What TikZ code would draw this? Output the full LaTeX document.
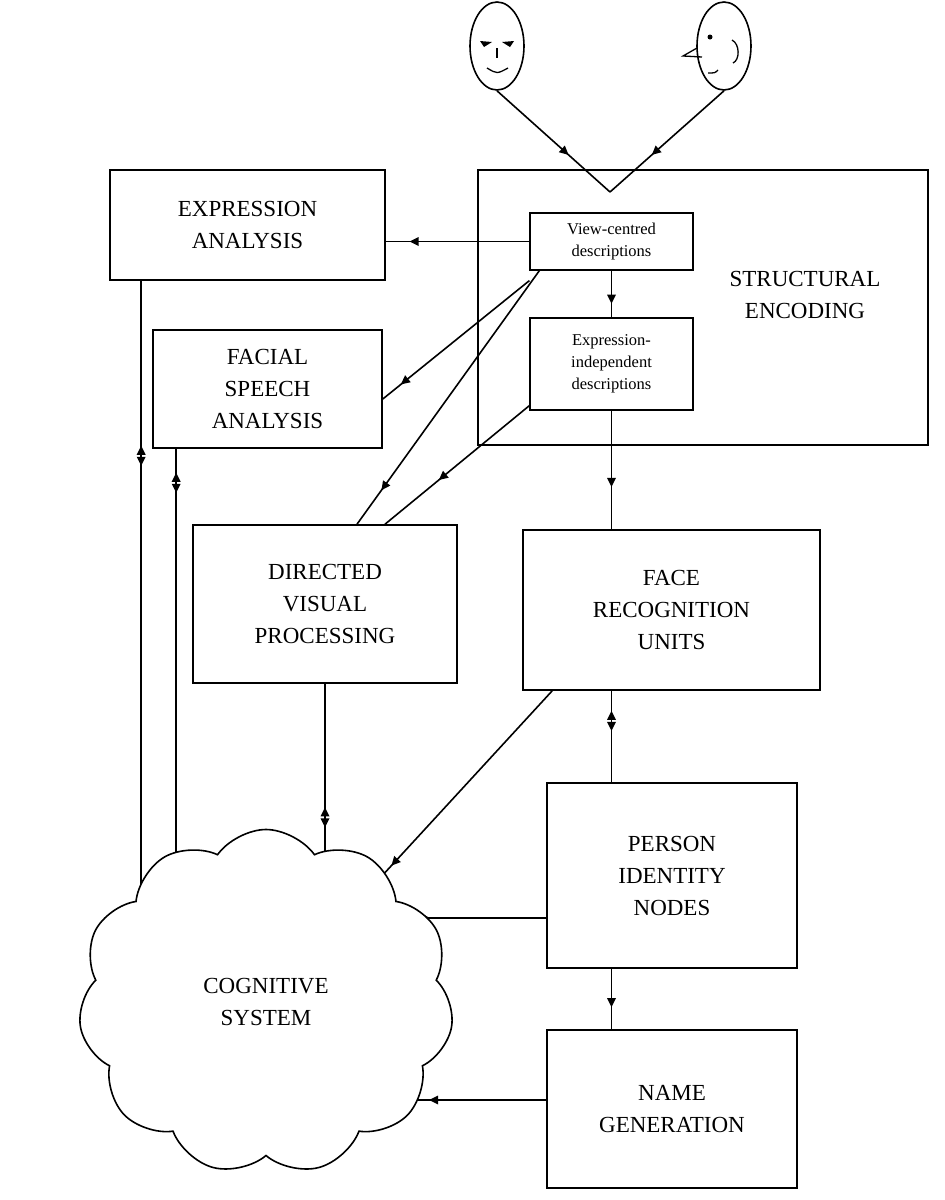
\documentclass[tikz,border=0pt]{standalone}
\usepackage{fontspec}
\setmainfont{Liberation Serif}
\usetikzlibrary{shapes.symbols,shapes.geometric,decorations.markings,calc}
\pgfdeclarelayer{bg}\pgfsetlayers{bg,main}
\begin{document}
\begin{tikzpicture}[x=1pt,y=-1pt,line width=1.6pt,
  box/.style={draw,align=center,inner sep=0pt,font=\fontsize{23}{32}\selectfont},
  sbox/.style={draw,align=center,inner sep=0pt,line width=1.2pt,font=\fontsize{16.5}{22}\selectfont},
  fwd/.style={postaction={decorate},decoration={markings,mark=at position #1 with {\fill (5,0)--(-4,4.5)--(-4,-4.5)--cycle;}}},
  dbl/.style={postaction={decorate},decoration={markings,mark=at position #1 with {\fill (-10,0)--(-1,4.5)--(-1,-4.5)--cycle; \fill (10,0)--(1,4.5)--(1,-4.5)--cycle;}}}]
\useasboundingbox (0,0) rectangle (945,1200);
% faces
\node[draw,ellipse,minimum width=54pt,minimum height=88pt,inner sep=0pt] (f1) at (497,46) {};
\node[draw,ellipse,minimum width=54pt,minimum height=88pt,inner sep=0pt] (f2) at (724,46) {};
\fill (480,41)--(492,42)--(484,47)--cycle; \fill (514,41)--(502,42)--(510,47)--cycle;
\draw[line width=1.3pt] (497,48)--(497,58); \draw[line width=1.3pt] (487,68) .. controls (497,74) .. (508,68);
\fill (710,37) circle (2.5pt);
\draw[line width=1.3pt] (697,48)--(683,56)--(702,57);
\draw[line width=1.3pt] (732,40) .. controls (740,44) and (740,60) .. (733,63);
\draw[line width=1.3pt] (708,73) .. controls (715,73) .. (718,70);
% boxes
\node[box,minimum width=275pt,minimum height=110pt] (ea) at (247.5,225) {EXPRESSION\\ANALYSIS};
\node[draw,minimum width=450pt,minimum height=275pt] (se) at (703,307.5) {};
\node[box,draw=none] at (805,295) {STRUCTURAL\\ENCODING};
\node[sbox,minimum width=163pt,minimum height=57pt] (vc) at (611.5,241.5) {View-centred\\descriptions};
\node[sbox,minimum width=163pt,minimum height=92pt] (ei) at (611.5,364) {Expression-\\independent\\descriptions};
\node[box,minimum width=229pt,minimum height=118pt] (fs) at (267.5,389) {FACIAL\\SPEECH\\ANALYSIS};
\node[box,minimum width=264pt,minimum height=158pt] (dv) at (325,604) {DIRECTED\\VISUAL\\PROCESSING};
\node[box,minimum width=297pt,minimum height=160pt] (fr) at (671.5,610) {FACE\\RECOGNITION\\UNITS};
\node[box,minimum width=250pt,minimum height=185pt] (pi) at (672,875.5) {PERSON\\IDENTITY\\NODES};
\node[box,minimum width=250pt,minimum height=158pt] (ng) at (672,1109) {NAME\\GENERATION};
\node[cloud,draw,fill=white,cloud puffs=11,cloud puff arc=110,aspect=1.05,minimum width=375pt,minimum height=345pt,inner sep=0pt,align=center,font=\fontsize{23}{32}\selectfont] (cs) at (266,1002) {COGNITIVE\\SYSTEM};
\coordinate (v) at (610,192);
\begin{pgfonlayer}{bg}
\begin{scope}[line width=1.6pt]
\draw[fwd=0.6] (f1.south) -- (v);
\draw[fwd=0.6] (f2.south) -- (v);
\draw[fwd=0.8] (vc.west) -- (ea.east |- vc.west);
\draw[fwd=0.85] ([yshift=-10pt]vc.south west) -- ([yshift=-10pt]fs.east);
\draw[fwd=0.85] ([xshift=10pt]vc.south west) -- ([xshift=32pt]dv.north);
\draw[fwd=0.6] ([yshift=5pt]ei.south west) -- ([xshift=60pt]dv.north);
\draw[fwd=0.6] (vc.south) -- (ei.north);
\draw[fwd=0.6] (ei.south) -- (fr.north -| ei.south);
\draw[dbl=0.33] (fr.south -| ei.south) -- (pi.north -| ei.south);
\draw[fwd=0.55] ([xshift=30pt]fr.south west) -- (cs.center);
\draw[dbl=0.45] ([yshift=-42.5pt]pi.west) -- ([yshift=-42.5pt]pi.west -| cs.center);
\draw[fwd=0.55] (pi.south -| ei.south) -- (ng.north -| ei.south);
\draw[fwd=0.4] ([yshift=9pt]ng.west) -- ([yshift=9pt]ng.west -| cs.center);
\draw[dbl=0.42] (dv.south) -- (dv.south |- cs.center);
\draw[dbl=175pt] ([xshift=32pt]ea.south west) -- ([xshift=32pt]ea.south west |- cs.center);
\draw[dbl=34pt] ([xshift=24pt]fs.south west) -- ([xshift=24pt]fs.south west |- cs.center);
\end{scope}
\end{pgfonlayer}
\end{tikzpicture}
\end{document}
